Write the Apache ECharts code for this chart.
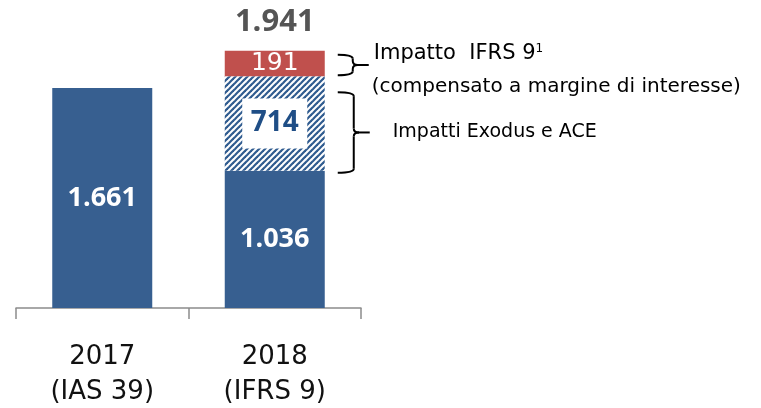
<!DOCTYPE html>
<html><head><meta charset="utf-8">
<script src="https://cdn.jsdelivr.net/npm/echarts@6/dist/echarts.min.js"></script>
<style>html,body{margin:0;padding:0;background:#fff}#c{width:761px;height:408px}</style>
</head><body><div id="c"></div>
<script>
const categories = ['2017\n(IAS 39)', '2018\n(IFRS 9)'];
const baseValues = [1661, 1036];
const exodusValues = [null, 714];
const ifrsValues = [null, 191];
const totalValues = [null, 1941];
const fmt = v => v >= 1000 ? Math.floor(v/1000) + '.' + String(v%1000).padStart(3,'0') : String(v);

// hatch pattern
const pc = document.createElement('canvas');
pc.width = 6; pc.height = 6;
const g = pc.getContext('2d');
g.fillStyle = '#fff'; g.fillRect(0,0,6,6);
g.strokeStyle = '#2f5b8f'; g.lineWidth = 2.2;
for (let k = -1; k <= 1; k++) {
  g.beginPath(); g.moveTo(-1 + k*6, 7); g.lineTo(7 + k*6, -1); g.stroke();
}

const chart = echarts.init(document.getElementById('c'));
const option = {
  animation: false,
  grid: {left: 16, right: 400, top: 0, bottom: 100, outerBoundsMode: 'none', containLabel: false},
  xAxis: {
    type: 'category', data: categories,
    axisLine: {lineStyle: {color: '#8c8c8c', width: 1.5}},
    axisTick: {show: true, length: 11, lineStyle: {color: '#8c8c8c', width: 1.5}},
    axisLabel: {color: '#111', fontSize: 26, lineHeight: 35, margin: 32, fontFamily: 'DejaVu Sans'}
  },
  yAxis: {type: 'value', min: 0, max: 2325, show: false, splitLine: {show: false}},
  series: [
    {type: 'bar', stack: 's', data: baseValues, barWidth: 100,
     itemStyle: {color: '#375f90'},
     label: {show: true, position: 'inside', color: '#fff', fontSize: 27, fontWeight: 'bold',
             fontFamily: 'Open Sans', formatter: p => fmt(p.value)}},
    {type: 'bar', stack: 's', data: exodusValues, barWidth: 100,
     itemStyle: {color: {image: pc, repeat: 'repeat'}},
     label: {show: true, position: 'inside', color: '#1f4e86', fontSize: 28, fontWeight: 'bold',
             fontFamily: 'Open Sans', backgroundColor: '#fff', padding: [6, 10, 6, 10],
             width: 45, height: 38, align: 'center', verticalAlign: 'middle', lineHeight: 38,
             formatter: p => fmt(p.value)}},
    {type: 'bar', stack: 's', data: ifrsValues, barWidth: 100,
     itemStyle: {color: '#c0504d'},
     label: {show: true, position: 'inside', color: '#fff', fontSize: 25, fontWeight: 'normal',
             fontFamily: 'DejaVu Sans', formatter: p => fmt(p.value)}},
    {type: 'scatter', data: totalValues, symbolSize: 2,
     itemStyle: {color: 'rgba(0,0,0,0)', opacity: 1},
     label: {show: true, position: 'top', distance: 12, color: '#555555', fontSize: 31, opacity: 1,
             fontWeight: 'bold', fontFamily: 'Open Sans', formatter: p => fmt(p.value)}}
  ]
};
chart.setOption(option);

function brace(x0, y0, y1, w, tip) {
  const ym = (y0 + y1) / 2, r = 4, xv = x0 + w;
  const st = {fill: null, stroke: '#000', lineWidth: 2};
  return [
    {type: 'bezierCurve', shape: {x1: x0, y1: y0, x2: xv, y2: y0 + r, cpx1: xv, cpy1: y0}, style: st},
    {type: 'line', shape: {x1: xv, y1: y0 + r, x2: xv, y2: ym - r}, style: st},
    {type: 'bezierCurve', shape: {x1: xv, y1: ym - r, x2: xv + 5, y2: ym, cpx1: xv, cpy1: ym}, style: st},
    {type: 'bezierCurve', shape: {x1: xv + 5, y1: ym, x2: xv, y2: ym + r, cpx1: xv, cpy1: ym}, style: st},
    {type: 'line', shape: {x1: xv, y1: ym + r, x2: xv, y2: y1 - r}, style: st},
    {type: 'bezierCurve', shape: {x1: xv, y1: y1 - r, x2: x0, y2: y1, cpx1: xv, cpy1: y1}, style: st},
    {type: 'line', shape: {x1: xv + 4, y1: ym, x2: xv + tip, y2: ym}, style: st}
  ];
}
const P = v => chart.convertToPixel({xAxisIndex: 0, yAxisIndex: 0}, [1, v]);
const top1 = P(totalValues[1])[1], mid1 = P(baseValues[1] + exodusValues[1])[1];
const base1 = P(baseValues[1])[1];
const barRight = P(0)[0] + 50;
const x0 = barRight + 13;
const graphics = [].concat(
  brace(x0, top1 + 4, mid1 - 1, 15, 16),
  brace(x0, mid1 + 16, base1 + 2, 16, 16),
  [
  {type: 'text', x: x0 + 36, y: top1 + 3, style: {
     text: '{a|Impatto  IFRS 9}{s|1}', verticalAlign: 'middle',
     rich: {a: {fontSize: 21, fontFamily: 'DejaVu Sans', fill: '#000'},
            s: {fontSize: 12, fontFamily: 'DejaVu Sans', fill: '#000', verticalAlign: 'top', padding: [0,0,10,0]}}}},
  {type: 'text', x: x0 + 34, y: top1 + 36, style: {
     text: '(compensato a margine di interesse)', fontSize: 20, fontFamily: 'DejaVu Sans',
     fill: '#000', verticalAlign: 'middle'}},
  {type: 'text', x: x0 + 55, y: (mid1 + 16 + base1 + 2) / 2, style: {
     text: 'Impatti Exodus e ACE', fontSize: 19, fontFamily: 'DejaVu Sans',
     fill: '#000', verticalAlign: 'middle'}}
  ]);
chart.setOption({graphic: graphics});
</script></body></html>
